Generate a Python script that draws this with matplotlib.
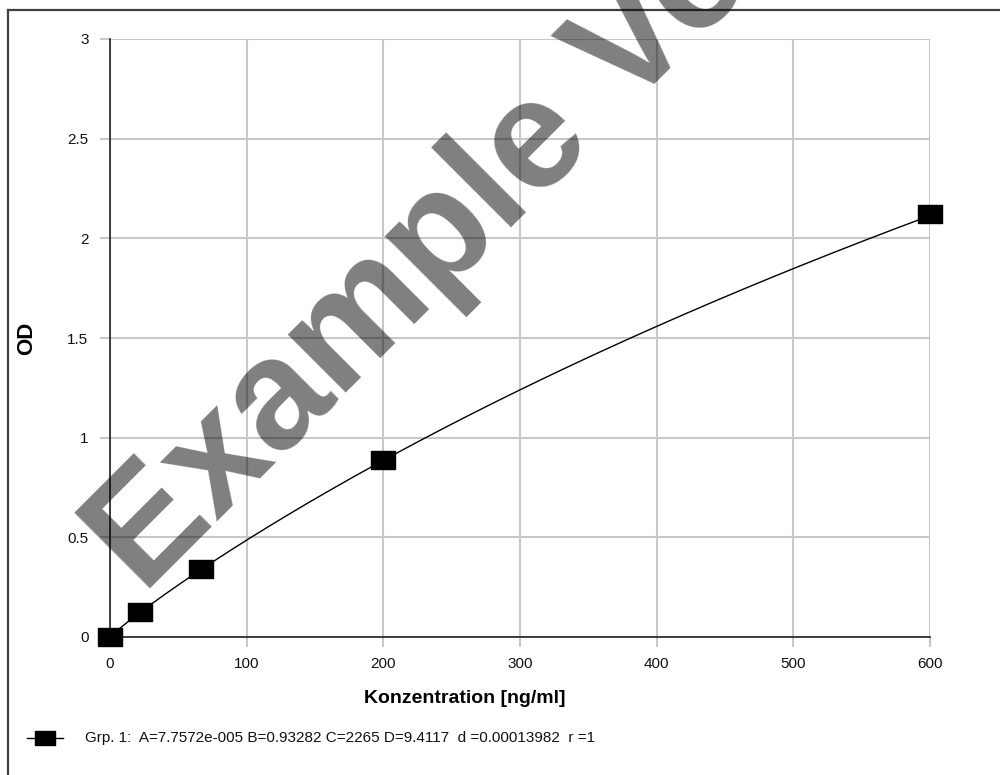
from matplotlib import pyplot as plt
from matplotlib.lines import Line2D
import numpy as np

# standards (concentration in ng/ml) and measured OD
conc = [0, 22.2, 66.7, 200, 600]
od = [0.0, 0.125, 0.34, 0.89, 2.12]

# 4-parameter fit shown in the legend
A = 7.7572e-5
B = 0.93282
C = 2265
D = 9.4117
fit_label = "Grp. 1:  A=7.7572e-005 B=0.93282 C=2265 D=9.4117  d =0.00013982  r =1"

x_ticks = [0, 100, 200, 300, 400, 500, 600]
y_ticks = [0, 0.5, 1, 1.5, 2, 2.5, 3]
y_ticklabels = ["0", "0.5", "1", "1.5", "2", "2.5", "3"]

plt.rcParams['font.family'] = ['Liberation Sans', 'DejaVu Sans']

W, H = 1000, 775
fig = plt.figure(figsize=(10, 7.75), dpi=100)
ax = fig.add_axes([110 / W, 1 - 637 / H, 820 / W, 598 / H])

# rectangular marker, wider than tall
rect = [(-1, -0.7), (1, -0.7), (1, 0.7), (-1, 0.7), (-1, -0.7)]

xs = np.linspace(0, 600, 400)
fit = D + (A - D) / (1 + (xs / C) ** B)
ax.plot(xs, fit, color='black', lw=1.0, zorder=3)
ax.plot(conc, od, linestyle='none', marker=rect, markersize=17.5,
        color='black', zorder=4, clip_on=False)

ax.set_xlim(0, 600)
ax.set_ylim(0, 3)
ax.set_xticks(x_ticks)
ax.set_yticks(y_ticks)
ax.set_yticklabels(y_ticklabels)
ax.grid(True, color='#c8c8c8', lw=1.5)
ax.set_axisbelow(True)
for s in ['top', 'right']:
    ax.spines[s].set_visible(False)
for s in ['left', 'bottom']:
    ax.spines[s].set_color('#202020')
    ax.spines[s].set_linewidth(1.2)
    ax.spines[s].set_zorder(2.5)
ax.tick_params(axis='both', length=7.5, width=1.5, color='#c8c8c8',
               labelsize=11, labelcolor='#111111')
ax.tick_params(axis='x', pad=7)
ax.tick_params(axis='y', pad=8)

ax.set_xlabel('Konzentration [ng/ml]', fontsize=14, fontweight='bold')
ax.xaxis.set_label_coords((465 - 110) / 820, -0.088)
ax.set_ylabel('OD', fontsize=16, fontweight='bold')
ax.yaxis.set_label_coords((37 - 110) / 820, 0.5)

# legend row under the plot
ly = 1 - 738 / H
fig.add_artist(Line2D([27 / W, 63 / W], [ly, ly], color='black', lw=1.0))
fig.add_artist(Line2D([45 / W], [ly], marker=rect, markersize=14.5,
                      color='black', linestyle='none'))
fig.text(85 / W, ly, fit_label, fontsize=11, va='center', ha='left',
         color='#111111')

# outer frame (top and left edges visible)
fig.add_artist(Line2D([8 / W, 1], [1 - 10 / H, 1 - 10 / H], color='#404040', lw=1.6))
fig.add_artist(Line2D([8 / W, 8 / W], [0, 1 - 10 / H], color='#404040', lw=1.6))

# watermark
fig.text(143 / W, 1 - 595 / H, 'Example Version', fontsize=112,
         fontweight='bold', color='black', alpha=0.5, rotation=45,
         rotation_mode='anchor', ha='left', va='baseline', zorder=10)

fig.savefig('out.png', dpi=100)
